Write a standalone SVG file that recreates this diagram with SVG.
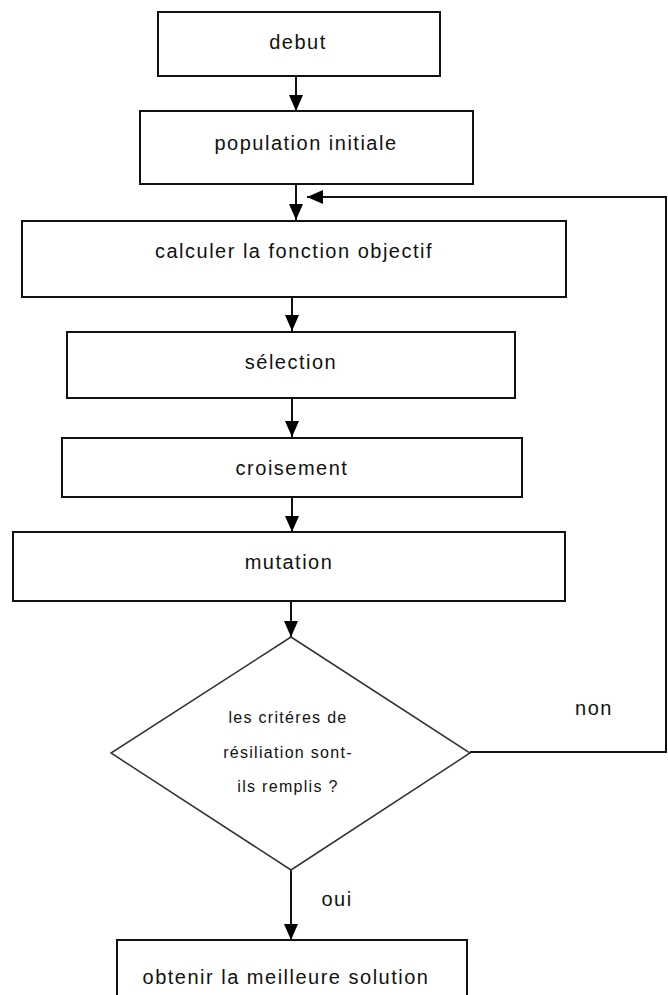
<svg xmlns="http://www.w3.org/2000/svg" width="668" height="995" viewBox="0 0 668 995">
  <style>
    .box { fill: #ffffff; stroke: #111; stroke-width: 2; }
    .dia { fill: #ffffff; stroke: #333; stroke-width: 1.5; }
    .lbl { font-family: "Liberation Sans", Arial, sans-serif; font-size: 20px; letter-spacing: 1.5px; fill: #111; text-anchor: middle; }
    .small { font-size: 16px; letter-spacing: 1.3px; }
    .edge { fill: none; stroke: #111; stroke-width: 2; }
  </style>
  <defs>
    <marker id="arrow" markerWidth="16" markerHeight="14" refX="16" refY="7" orient="auto" markerUnits="userSpaceOnUse">
      <path d="M0,0 L16,7 L0,14 Z" fill="#000"/>
    </marker>
  </defs>
  <rect width="668" height="995" fill="#ffffff"/>

  <g id="connectors">
    <line class="edge" x1="296" y1="76" x2="296" y2="111" marker-end="url(#arrow)"/>
    <line class="edge" x1="296" y1="184" x2="296" y2="220" marker-end="url(#arrow)"/>
    <polyline class="edge" points="470,752 666,752 666,197 307,197" marker-end="url(#arrow)"/>
    <line class="edge" x1="292" y1="290" x2="292" y2="331" marker-end="url(#arrow)"/>
    <line class="edge" x1="292" y1="398" x2="292" y2="437" marker-end="url(#arrow)"/>
    <line class="edge" x1="292" y1="497" x2="292" y2="532" marker-end="url(#arrow)"/>
    <line class="edge" x1="291" y1="601" x2="291" y2="637" marker-end="url(#arrow)"/>
    <line class="edge" x1="291" y1="870" x2="291" y2="940" marker-end="url(#arrow)"/>
    <text class="lbl" x="594" y="715">non</text>
    <text class="lbl" x="337" y="906">oui</text>
  </g>

  <g id="debut">
    <rect class="box" x="158" y="12" width="282" height="64"/>
    <text class="lbl" x="298" y="49">debut</text>
  </g>
  <g id="population">
    <rect class="box" x="140" y="111" width="333" height="73"/>
    <text class="lbl" x="306" y="150">population initiale</text>
  </g>
  <g id="fonction-objectif">
    <rect class="box" x="22" y="221" width="544" height="76"/>
    <text class="lbl" x="294" y="258">calculer la fonction objectif</text>
  </g>
  <g id="selection">
    <rect class="box" x="67" y="332" width="448" height="66"/>
    <text class="lbl" x="291" y="369">sélection</text>
  </g>
  <g id="croisement">
    <rect class="box" x="62" y="438" width="460" height="59"/>
    <text class="lbl" x="292" y="475">croisement</text>
  </g>
  <g id="mutation">
    <rect class="box" x="13" y="532" width="552" height="69"/>
    <text class="lbl" x="289" y="569">mutation</text>
  </g>
  <g id="criteres">
    <polygon class="dia" points="291,637 470,753 291,870 111,753"/>
    <text class="lbl small" x="288" y="723">les critéres de</text>
    <text class="lbl small" x="288" y="758">résiliation sont-</text>
    <text class="lbl small" x="288" y="792">ils remplis ?</text>
  </g>
  <g id="solution">
    <rect class="box" x="117" y="940" width="350" height="70"/>
    <text class="lbl" x="286" y="984">obtenir la meilleure solution</text>
  </g>
</svg>
